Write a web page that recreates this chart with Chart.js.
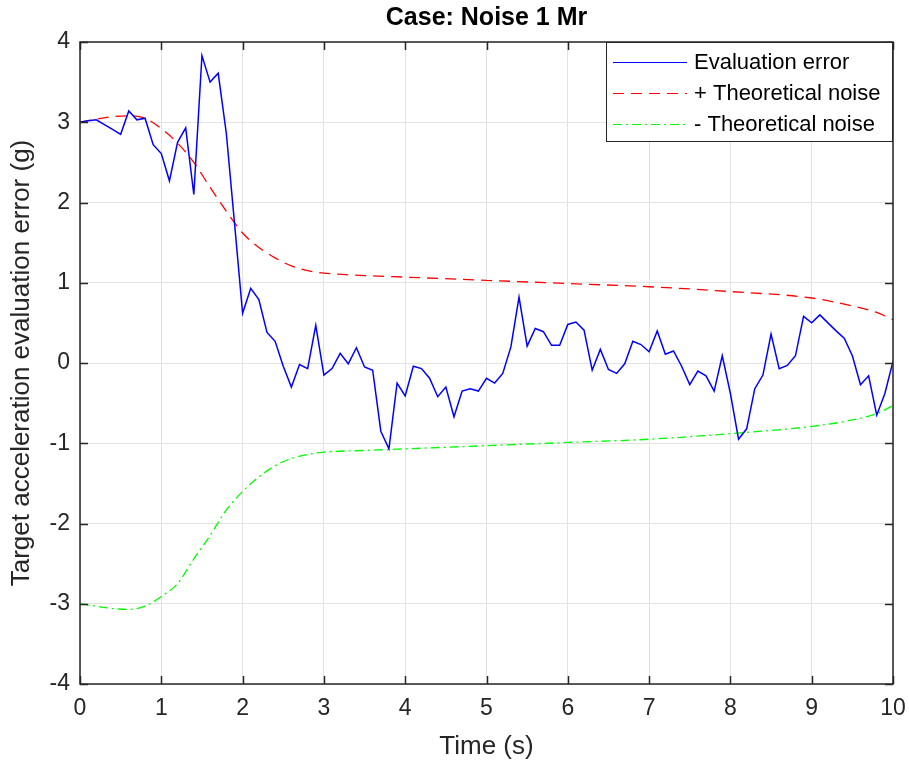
<!DOCTYPE html>
<html>
<head>
<meta charset="utf-8">
<title>Case: Noise 1 Mr</title>
<script src="https://cdn.jsdelivr.net/npm/chart.js@4/dist/chart.umd.min.js"></script>
<style>
    html, body { margin: 0; padding: 0; background: #fff; }
    #wrap { position: relative; width: 909px; height: 765px; }
</style>
</head>
<body>
<div id="wrap"><canvas id="noiseChart"></canvas></div>
<script>
'use strict';

// ── Data ────────────────────────────────────────────────
const evalTime = [
    0.0, 0.1, 0.2, 0.3, 0.4, 0.5, 0.6, 0.7, 0.8, 0.9,
    1.0, 1.1, 1.2, 1.3, 1.4, 1.5, 1.6, 1.7, 1.8, 1.9,
    2.0, 2.1, 2.2, 2.3, 2.4, 2.5, 2.6, 2.7, 2.8, 2.9,
    3.0, 3.1, 3.2, 3.3, 3.4, 3.5, 3.6, 3.7, 3.8, 3.9,
    4.0, 4.1, 4.2, 4.3, 4.4, 4.5, 4.6, 4.7, 4.8, 4.9,
    5.0, 5.1, 5.2, 5.3, 5.4, 5.5, 5.6, 5.7, 5.8, 5.9,
    6.0, 6.1, 6.2, 6.3, 6.4, 6.5, 6.6, 6.7, 6.8, 6.9,
    7.0, 7.1, 7.2, 7.3, 7.4, 7.5, 7.6, 7.7, 7.8, 7.9,
    8.0, 8.1, 8.2, 8.3, 8.4, 8.5, 8.6, 8.7, 8.8, 8.9,
    9.0, 9.1, 9.2, 9.3, 9.4, 9.5, 9.6, 9.7, 9.8, 9.9,
    10.0
];
const evalError = [
    3.00, 3.02, 3.03, 2.97, 2.91, 2.85, 3.14, 3.03, 3.05, 2.72,
    2.61, 2.27, 2.75, 2.93, 2.10, 3.83, 3.50, 3.61, 2.86, 1.75,
    0.62, 0.93, 0.79, 0.38, 0.27, -0.04, -0.30, -0.02, -0.07, 0.47,
    -0.15, -0.07, 0.12, -0.01, 0.19, -0.05, -0.09, -0.85, -1.07, -0.25,
    -0.41, -0.04, -0.07, -0.19, -0.42, -0.30, -0.67, -0.35, -0.32, -0.35,
    -0.19, -0.25, -0.13, 0.20, 0.82, 0.21, 0.43, 0.39, 0.22, 0.22,
    0.48, 0.51, 0.41, -0.09, 0.17, -0.08, -0.13, -0.01, 0.27, 0.23,
    0.14, 0.40, 0.11, 0.15, -0.04, -0.27, -0.10, -0.16, -0.35, 0.09,
    -0.38, -0.95, -0.82, -0.32, -0.15, 0.36, -0.07, -0.03, 0.09, 0.58,
    0.50, 0.60, 0.50, 0.40, 0.31, 0.09, -0.27, -0.16, -0.65, -0.38,
    0.02
];

const noiseTime = [0, 0.2, 0.4, 0.6, 0.8, 1.0, 1.2, 1.4, 1.6, 1.8, 2.0, 2.2, 2.4,
    2.6, 2.8, 3.0, 3.5, 4, 5, 6, 7, 8, 9, 9.5, 9.8, 10];
const noisePlus = [3.00, 3.04, 3.07, 3.08, 3.05, 2.92, 2.74, 2.50, 2.19, 1.89, 1.62,
    1.44, 1.31, 1.21, 1.15, 1.12, 1.09, 1.07, 1.03, 0.99, 0.95, 0.89, 0.81, 0.71, 0.63, 0.54];
const noiseMinus = [-3.00, -3.03, -3.06, -3.07, -3.03, -2.91, -2.75, -2.44, -2.15, -1.83,
    -1.60, -1.42, -1.28, -1.19, -1.14, -1.11, -1.09, -1.07, -1.03, -0.99, -0.95, -0.88,
    -0.79, -0.71, -0.63, -0.53];

const xTicks = [0, 1, 2, 3, 4, 5, 6, 7, 8, 9, 10];
const yTicks = [-4, -3, -2, -1, 0, 1, 2, 3, 4];

const seriesNames = ['Evaluation error', '+ Theoretical noise', '- Theoretical noise'];

const FONT = "'Liberation Sans', Arial, Helvetica, sans-serif";
const AXIS_COLOR = '#262626';
const GRID_COLOR = '#e3e3e3';

const toPoints = (xs, ys) => xs.map((x, i) => ({ x: x, y: ys[i] }));

// ── MATLAB-style box, inward ticks and inset legend ─────
const boxPlugin = {
    id: 'matlabBox',
    afterDatasetsDraw(chart) {
        const { ctx, chartArea: a, scales } = chart;
        ctx.save();
        ctx.strokeStyle = AXIS_COLOR;
        ctx.lineWidth = 1.5;
        ctx.strokeRect(a.left, a.top, a.right - a.left, a.bottom - a.top);
        const len = 8;
        ctx.beginPath();
        xTicks.forEach(v => {
            const px = Math.round(scales.x.getPixelForValue(v)) + 0.5;
            ctx.moveTo(px, a.bottom); ctx.lineTo(px, a.bottom - len);
            ctx.moveTo(px, a.top); ctx.lineTo(px, a.top + len);
        });
        yTicks.forEach(v => {
            const py = Math.round(scales.y.getPixelForValue(v)) + 0.5;
            ctx.moveTo(a.left, py); ctx.lineTo(a.left + len, py);
            ctx.moveTo(a.right, py); ctx.lineTo(a.right - len, py);
        });
        ctx.stroke();
        ctx.restore();
    },
    afterDraw(chart) {
        const { ctx, chartArea: a } = chart;
        const w = 287, h = 100;
        const x0 = a.right - w, y0 = a.top;
        ctx.save();
        ctx.fillStyle = '#fff';
        ctx.fillRect(x0, y0, w, h);
        ctx.strokeStyle = AXIS_COLOR;
        ctx.lineWidth = 1;
        ctx.strokeRect(x0 + 0.5, y0 + 0.5, w - 1, h - 1);

        ctx.font = '22px ' + FONT;
        ctx.textBaseline = 'middle';
        ctx.fillStyle = '#000';
        chart.data.datasets.forEach((ds, i) => {
            const y = y0 + 20 + i * 31;
            ctx.beginPath();
            ctx.strokeStyle = ds.borderColor;
            ctx.lineWidth = 1.2;
            ctx.setLineDash(ds.borderDash || []);
            ctx.moveTo(x0 + 7, y + 0.5);
            ctx.lineTo(x0 + 81, y + 0.5);
            ctx.stroke();
            ctx.setLineDash([]);
            ctx.fillText(ds.label, x0 + 88, y + 1);
        });
        ctx.restore();
    }
};

const canvas = document.getElementById('noiseChart');

new Chart(canvas, {
    type: 'line',
    data: {
        datasets: [
            {
                label: seriesNames[0],
                data: toPoints(evalTime, evalError),
                borderColor: '#0000ff',
                borderWidth: 1.5,
                pointRadius: 0,
                tension: 0,
            },
            {
                label: seriesNames[1],
                data: toPoints(noiseTime, noisePlus),
                borderColor: '#ff0000',
                borderWidth: 1.3,
                borderDash: [11, 7],
                pointRadius: 0,
                cubicInterpolationMode: 'monotone',
            },
            {
                label: seriesNames[2],
                data: toPoints(noiseTime, noiseMinus),
                borderColor: '#00ff00',
                borderWidth: 1.3,
                borderDash: [9, 4, 2, 4],
                pointRadius: 0,
                cubicInterpolationMode: 'monotone',
            },
        ],
    },
    options: {
        responsive: true,
        maintainAspectRatio: false,
        animation: false,
        layout: { padding: { left: 0, right: 16, top: 0, bottom: 0 } },
        plugins: {
            legend: { display: false },
            tooltip: { enabled: false },
            title: {
                display: true,
                fullSize: false,
                text: 'Case: Noise 1 Mr',
                color: '#000',
                font: { family: FONT, size: 25, weight: 'bold' },
                padding: { top: 3, bottom: 9 },
            },
        },
        scales: {
            x: {
                type: 'linear',
                min: 0,
                max: 10,
                afterBuildTicks: (scale) => { scale.ticks = xTicks.map(v => ({ value: v })); },
                afterFit: (scale) => { scale.height = 81; scale.paddingLeft = 0; scale.paddingRight = 0; },
                grid: { color: GRID_COLOR, drawTicks: false },
                border: { display: false },
                ticks: { color: AXIS_COLOR, padding: 11, font: { family: FONT, size: 23 }, maxRotation: 0 },
                title: {
                    display: true,
                    text: 'Time (s)',
                    color: AXIS_COLOR,
                    font: { family: FONT, size: 26 },
                    padding: { top: 0, bottom: 3 },
                },
            },
            y: {
                min: -4,
                max: 4,
                afterBuildTicks: (scale) => { scale.ticks = yTicks.map(v => ({ value: v })); },
                afterFit: (scale) => { scale.width = 80; scale.paddingTop = 0; scale.paddingBottom = 0; },
                grid: { color: GRID_COLOR, drawTicks: false },
                border: { display: false },
                ticks: { color: AXIS_COLOR, padding: 10, font: { family: FONT, size: 23 } },
                title: {
                    display: true,
                    text: 'Target acceleration evaluation error (g)',
                    color: AXIS_COLOR,
                    font: { family: FONT, size: 26 },
                    padding: { top: 6, bottom: 0 },
                },
            },
        },
    },
    plugins: [boxPlugin],
});
</script>
</body>
</html>
